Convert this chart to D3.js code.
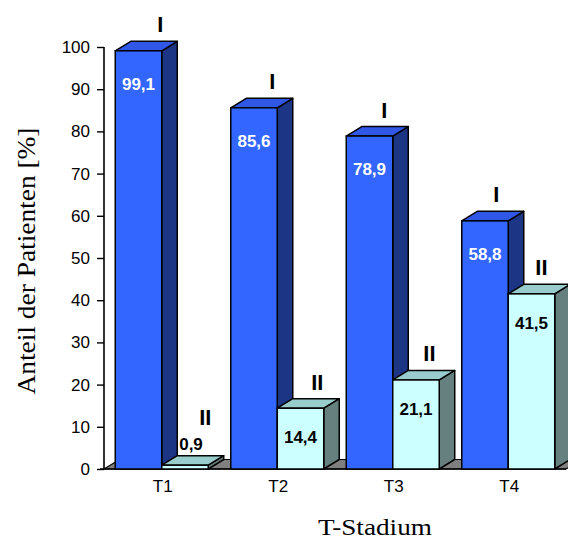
<!DOCTYPE html>
<html>
<head>
<meta charset="utf-8">
<script src="https://cdn.jsdelivr.net/npm/d3@7"></script>
<style>
  html, body { margin: 0; padding: 0; background: #fff; }
  svg { display: block; }
</style>
</head>
<body>
<svg id="chart" width="568" height="540"></svg>
<script>
// T-stage categories and the share of patients (%) per group I / II
const categories = ["T1", "T2", "T3", "T4"];
const seriesNames = ["I", "II"];
const valuesI = [99.1, 85.6, 78.9, 58.8];
const valuesII = [0.9, 14.4, 21.1, 41.5];
const valueLabelsI = ["99,1", "85,6", "78,9", "58,8"];
const valueLabelsII = ["0,9", "14,4", "21,1", "41,5"];
const yTicks = [0, 10, 20, 30, 40, 50, 60, 70, 80, 90, 100];

const svg = d3.select("#chart");

const x0 = 104, xEnd = 566, yBase = 469, yTop = 47;
const dx = 15.5, dy = 9.5;   // oblique depth of the 3D bars

const x = d3.scaleBand().domain(categories).range([x0, xEnd])
  .paddingInner(0.195).paddingOuter(0.0975);
const xs = d3.scaleBand().domain(seriesNames).range([0, x.bandwidth()]).padding(0);
const y = d3.scaleLinear().domain([0, 100]).range([yBase, yTop]);

const styles = {
  I:  { front: "#3366FF", top: "#3157E6", side: "#1C3585", text: "#ffffff", labelDy: 39 },
  II: { front: "#CCFFFF", top: "#99CCCC", side: "#668080", text: "#000000", labelDy: 35 }
};

const sans = "Arial, 'Liberation Sans', sans-serif";
const serif = "'Times New Roman', 'Liberation Serif', serif";

// floor of the 3D plot
svg.append("path")
  .attr("d", `M${x0},${yBase} L${x0 + dx},${yBase - dy} L${xEnd + dx},${yBase - dy} L${xEnd},${yBase} Z`)
  .attr("fill", "#7f7f7f").attr("stroke", "#000").attr("stroke-width", 1.2);

// y axis
const yAxis = svg.append("g").attr("transform", `translate(${x0},0)`)
  .call(d3.axisLeft(y).tickValues(yTicks).tickSize(7).tickPadding(7).tickFormat(d3.format("d")));
yAxis.select(".domain").attr("stroke", "#000").attr("stroke-width", 1.6).attr("d", `M0,${yTop}V${yBase}`);
yAxis.selectAll(".tick line").attr("stroke", "#000").attr("stroke-width", 1.4);
yAxis.selectAll(".tick text")
  .attr("font-family", sans)
  .attr("font-size", 17).attr("fill", "#000");

// x axis front edge
svg.append("line").attr("x1", x0 - 4).attr("x2", xEnd).attr("y1", yBase).attr("y2", yBase)
  .attr("stroke", "#000").attr("stroke-width", 1.6);

// category labels
svg.append("g").selectAll("text").data(categories).join("text")
  .attr("x", d => x(d) + x.bandwidth() / 2 + 1)
  .attr("y", 492)
  .attr("text-anchor", "middle")
  .attr("font-family", sans)
  .attr("font-size", 17).attr("fill", "#000")
  .text(d => d);

// one record per bar, drawn left to right so the fronts overlap the sides
const bars = [];
categories.forEach((c, i) => {
  bars.push({ cat: c, s: "I", v: valuesI[i], label: valueLabelsI[i] });
  bars.push({ cat: c, s: "II", v: valuesII[i], label: valueLabelsII[i] });
});

const g = svg.append("g");
bars.forEach(b => {
  const st = styles[b.s];
  const xl = x(b.cat) + xs(b.s), xr = xl + xs.bandwidth();
  const yv = y(b.v), y0 = y(0);
  const bg = g.append("g");
  // side face
  bg.append("path")
    .attr("d", `M${xr},${yv} L${xr + dx},${yv - dy} L${xr + dx},${y0 - dy} L${xr},${y0} Z`)
    .attr("fill", st.side).attr("stroke", "#000").attr("stroke-width", 1.5).attr("stroke-linejoin", "round");
  // top face
  bg.append("path")
    .attr("d", `M${xl},${yv} L${xl + dx},${yv - dy} L${xr + dx},${yv - dy} L${xr},${yv} Z`)
    .attr("fill", st.top).attr("stroke", "#000").attr("stroke-width", 1.5).attr("stroke-linejoin", "round");
  // front face
  bg.append("rect")
    .attr("x", xl).attr("y", yv).attr("width", xr - xl).attr("height", y0 - yv)
    .attr("fill", st.front).attr("stroke", "#000").attr("stroke-width", 1.5);

  const cx = (xl + xr) / 2;
  const small = (y0 - yv) < 20;
  // value label: inside the bar, or above it when the bar is too thin
  bg.append("text")
    .attr("x", cx + (small ? 6 : 0))
    .attr("y", small ? yv - 15 : yv + st.labelDy)
    .attr("text-anchor", "middle")
    .attr("font-family", sans)
    .attr("font-weight", "bold").attr("font-size", 17)
    .attr("fill", small ? "#000" : st.text)
    .text(b.label);
  // series marker above the bar, shifted with a slight perspective
  const shift = 16 + (330 - cx) * 0.03;
  bg.append("text")
    .attr("x", cx + shift)
    .attr("y", small ? yv - 40 : yv - dy - 9)
    .attr("text-anchor", "middle")
    .attr("font-family", sans)
    .attr("font-weight", "bold").attr("font-size", 22)
    .attr("fill", "#000")
    .text(b.s);
});

// axis titles
svg.append("text")
  .attr("transform", "translate(35,261) rotate(-90)")
  .attr("text-anchor", "middle")
  .attr("font-family", serif)
  .attr("font-size", 25).attr("fill", "#000")
  .attr("textLength", 267).attr("lengthAdjust", "spacingAndGlyphs")
  .text("Anteil der Patienten [%]");

svg.append("text")
  .attr("x", 375).attr("y", 535)
  .attr("text-anchor", "middle")
  .attr("font-family", serif)
  .attr("font-size", 23).attr("fill", "#000")
  .attr("textLength", 114).attr("lengthAdjust", "spacingAndGlyphs")
  .text("T-Stadium");
</script>
</body>
</html>
